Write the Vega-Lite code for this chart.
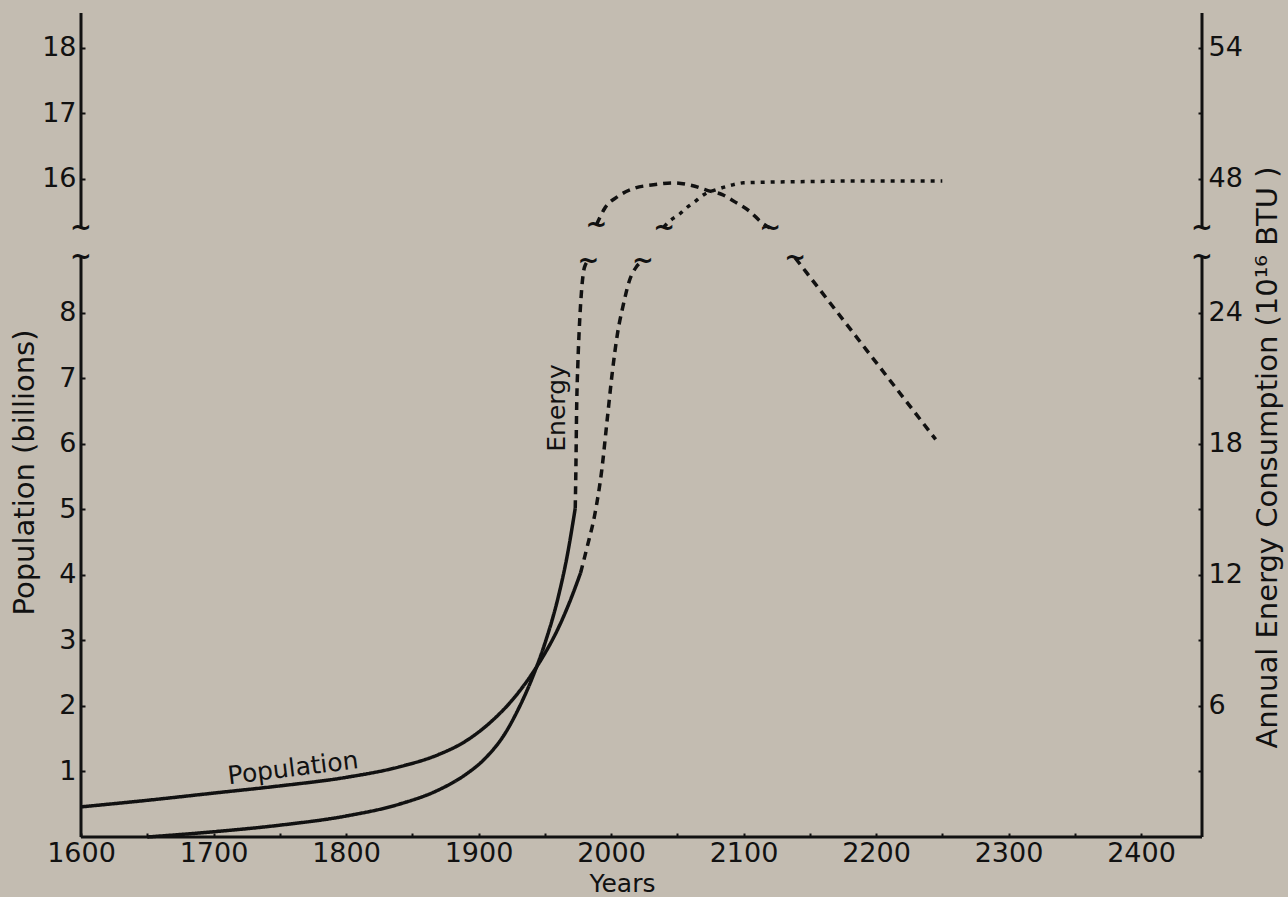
{
  "$schema": "https://vega.github.io/schema/vega-lite/v6.json",
  "width": 1121,
  "height": 824,
  "autosize": {"type": "none"},
  "padding": {"left": 81, "top": 13, "right": 86, "bottom": 60},
  "background": "#c3bcb1",
  "config": {
    "view": {"stroke": null},
    "font": "DejaVu Sans",
    "axis": {
      "domain": false,
      "grid": false,
      "labelFlush": false,
      "tickColor": "#111111",
      "tickWidth": 2,
      "tickSize": -4,
      "labelColor": "#111111",
      "labelFont": "DejaVu Sans",
      "labelFontSize": 27,
      "titleFont": "DejaVu Sans",
      "titleFontSize": 29,
      "titleFontWeight": "normal",
      "titleColor": "#111111"
    }
  },
  "datasets": {
    "population": [
      {"seg": "p1", "style": "solid", "year": 1600, "value": 0.46},
      {"seg": "p1", "style": "solid", "year": 1650, "value": 0.56},
      {"seg": "p1", "style": "solid", "year": 1700, "value": 0.67},
      {"seg": "p1", "style": "solid", "year": 1750, "value": 0.78},
      {"seg": "p1", "style": "solid", "year": 1800, "value": 0.91},
      {"seg": "p1", "style": "solid", "year": 1840, "value": 1.07},
      {"seg": "p1", "style": "solid", "year": 1870, "value": 1.26},
      {"seg": "p1", "style": "solid", "year": 1890, "value": 1.46},
      {"seg": "p1", "style": "solid", "year": 1910, "value": 1.77},
      {"seg": "p1", "style": "solid", "year": 1925, "value": 2.08},
      {"seg": "p1", "style": "solid", "year": 1940, "value": 2.48},
      {"seg": "p1", "style": "solid", "year": 1950, "value": 2.8},
      {"seg": "p1", "style": "solid", "year": 1960, "value": 3.18},
      {"seg": "p1", "style": "solid", "year": 1970, "value": 3.65},
      {"seg": "p1", "style": "solid", "year": 1977, "value": 4.03},
      {"seg": "p2", "style": "dashed", "year": 1977, "value": 4.03},
      {"seg": "p2", "style": "dashed", "year": 1982, "value": 4.43},
      {"seg": "p2", "style": "dashed", "year": 1988, "value": 4.95},
      {"seg": "p2", "style": "dashed", "year": 1993, "value": 5.6},
      {"seg": "p2", "style": "dashed", "year": 1997, "value": 6.35},
      {"seg": "p2", "style": "dashed", "year": 2001, "value": 7.1},
      {"seg": "p2", "style": "dashed", "year": 2005, "value": 7.7},
      {"seg": "p2", "style": "dashed", "year": 2009, "value": 8.1},
      {"seg": "p2", "style": "dashed", "year": 2014, "value": 8.5},
      {"seg": "p2", "style": "dashed", "year": 2019, "value": 8.7},
      {"seg": "p2", "style": "dashed", "year": 2024, "value": 8.8},
      {"seg": "p3", "style": "dotted", "year": 2040, "value": 15.27},
      {"seg": "p3", "style": "dotted", "year": 2045, "value": 15.37},
      {"seg": "p3", "style": "dotted", "year": 2051, "value": 15.45},
      {"seg": "p3", "style": "dotted", "year": 2057, "value": 15.56},
      {"seg": "p3", "style": "dotted", "year": 2063, "value": 15.65},
      {"seg": "p3", "style": "dotted", "year": 2070, "value": 15.76},
      {"seg": "p3", "style": "dotted", "year": 2080, "value": 15.84},
      {"seg": "p3", "style": "dotted", "year": 2090, "value": 15.9},
      {"seg": "p3", "style": "dotted", "year": 2100, "value": 15.94},
      {"seg": "p3", "style": "dotted", "year": 2150, "value": 15.96},
      {"seg": "p3", "style": "dotted", "year": 2200, "value": 15.97},
      {"seg": "p3", "style": "dotted", "year": 2250, "value": 15.97}
    ],
    "energy": [
      {"seg": "e1", "style": "solid", "year": 1650, "value": 0},
      {"seg": "e1", "style": "solid", "year": 1700, "value": 0.24},
      {"seg": "e1", "style": "solid", "year": 1750, "value": 0.54},
      {"seg": "e1", "style": "solid", "year": 1800, "value": 0.96},
      {"seg": "e1", "style": "solid", "year": 1840, "value": 1.5},
      {"seg": "e1", "style": "solid", "year": 1870, "value": 2.16},
      {"seg": "e1", "style": "solid", "year": 1890, "value": 2.85},
      {"seg": "e1", "style": "solid", "year": 1905, "value": 3.6},
      {"seg": "e1", "style": "solid", "year": 1920, "value": 4.74},
      {"seg": "e1", "style": "solid", "year": 1930, "value": 5.85},
      {"seg": "e1", "style": "solid", "year": 1940, "value": 7.2},
      {"seg": "e1", "style": "solid", "year": 1950, "value": 8.85},
      {"seg": "e1", "style": "solid", "year": 1960, "value": 10.95},
      {"seg": "e1", "style": "solid", "year": 1967, "value": 12.9},
      {"seg": "e1", "style": "solid", "year": 1973, "value": 15.06},
      {"seg": "e2", "style": "dashed", "year": 1973, "value": 15.06},
      {"seg": "e2", "style": "dashed", "year": 1973.5, "value": 16.95},
      {"seg": "e2", "style": "dashed", "year": 1974, "value": 19.41},
      {"seg": "e2", "style": "dashed", "year": 1975, "value": 21.72},
      {"seg": "e2", "style": "dashed", "year": 1976, "value": 23.22},
      {"seg": "e2", "style": "dashed", "year": 1978, "value": 25.2},
      {"seg": "e2", "style": "dashed", "year": 1980, "value": 26.1},
      {"seg": "e2", "style": "dashed", "year": 1983, "value": 26.4},
      {"seg": "e3", "style": "dashed", "year": 1989, "value": 45.9},
      {"seg": "e3", "style": "dashed", "year": 1995.5, "value": 46.68},
      {"seg": "e3", "style": "dashed", "year": 2005, "value": 47.19},
      {"seg": "e3", "style": "dashed", "year": 2018, "value": 47.58},
      {"seg": "e3", "style": "dashed", "year": 2032, "value": 47.73},
      {"seg": "e3", "style": "dashed", "year": 2047, "value": 47.82},
      {"seg": "e3", "style": "dashed", "year": 2061, "value": 47.7},
      {"seg": "e3", "style": "dashed", "year": 2072, "value": 47.49},
      {"seg": "e3", "style": "dashed", "year": 2084, "value": 47.28},
      {"seg": "e3", "style": "dashed", "year": 2093.5, "value": 46.95},
      {"seg": "e3", "style": "dashed", "year": 2105, "value": 46.5},
      {"seg": "e3", "style": "dashed", "year": 2114, "value": 45.99},
      {"seg": "e3", "style": "dashed", "year": 2120, "value": 45.75},
      {"seg": "e4", "style": "dashed", "year": 2139, "value": 26.52},
      {"seg": "e4", "style": "dashed", "year": 2193, "value": 22.29},
      {"seg": "e4", "style": "dashed", "year": 2245, "value": 18.21}
    ],
    "axisLines": [
      {"x1": 1600, "x2": 1600, "y1": 0, "y2": 8.85},
      {"x1": 1600, "x2": 1600, "y1": 15.25, "y2": 18.53},
      {"x1": 2446, "x2": 2446, "y1": 0, "y2": 8.85},
      {"x1": 2446, "x2": 2446, "y1": 15.25, "y2": 18.53},
      {"x1": 1600, "x2": 2446, "y1": 0, "y2": 0}
    ],
    "breaks": [
      {"year": 1600, "value": 8.85},
      {"year": 1600, "value": 15.25},
      {"year": 2446, "value": 8.85},
      {"year": 2446, "value": 15.25},
      {"year": 2024, "value": 8.8},
      {"year": 2040, "value": 15.25},
      {"year": 1983, "value": 8.8},
      {"year": 1989, "value": 15.3},
      {"year": 2120, "value": 15.25},
      {"year": 2139, "value": 8.84}
    ]
  },
  "layer": [
    {
      "layer": [
        {
          "data": {"name": "population"},
          "mark": {"type": "line", "strokeWidth": 3.5, "color": "#111111", "interpolate": "monotone"},
          "encoding": {
            "x": {
              "field": "year", "type": "quantitative",
              "scale": {"domain": [1600, 2446], "nice": false, "zero": false},
              "axis": {
                "values": [1600,1650,1700,1750,1800,1850,1900,1950,2000,2050,2100,2150,2200,2250,2300,2350,2400],
                "format": "d",
                "labelExpr": "datum.value % 100 === 0 ? datum.label : ''",
                "labelPadding": 7,
                "title": "Years",
                "titleFontSize": 25,
                "titleX": 541,
                "titleY": 46,
                "titleBaseline": "middle",
                "titleAnchor": "start",
                "titleAlign": "center"
              }
            },
            "y": {
              "field": "value", "type": "quantitative",
              "scale": {"type": "linear", "domain": [0, 8.85, 15.25, 18.53], "range": [824, 244.3, 215.1, 0], "nice": false, "zero": false},
              "axis": {
                "values": [1,2,3,4,5,6,7,8,16,17,18],
                "format": "d",
                "labelPadding": 9,
                "title": "Population (billions)",
                "titleAngle": -90,
                "titleX": -57,
                "titleY": 459,
                "titleAlign": "center",
                "titleBaseline": "middle",
                "titleAnchor": "start"
              }
            },
            "detail": {"field": "seg"},
            "strokeDash": {
              "field": "style", "type": "nominal",
              "scale": {"domain": ["solid", "dashed", "dotted"], "range": [[1, 0], [8, 6], [4, 6]]},
              "legend": null
            }
          }
        },
        {
          "data": {"name": "axisLines"},
          "mark": {"type": "rule", "strokeWidth": 3, "color": "#111111"},
          "encoding": {
            "x": {"field": "x1", "type": "quantitative", "scale": {"domain": [1600, 2446], "nice": false, "zero": false}},
            "x2": {"field": "x2"},
            "y": {"field": "y1", "type": "quantitative", "scale": {"type": "linear", "domain": [0, 8.85, 15.25, 18.53], "range": [824, 244.3, 215.1, 0], "nice": false, "zero": false}},
            "y2": {"field": "y2"}
          }
        },
        {
          "data": {"name": "breaks"},
          "mark": {"type": "text", "text": "~", "fontSize": 26, "fontWeight": "bold", "color": "#111111", "baseline": "middle", "align": "center"},
          "encoding": {
            "x": {"field": "year", "type": "quantitative", "scale": {"domain": [1600, 2446], "nice": false, "zero": false}},
            "y": {"field": "value", "type": "quantitative", "scale": {"type": "linear", "domain": [0, 8.85, 15.25, 18.53], "range": [824, 244.3, 215.1, 0], "nice": false, "zero": false}}
          }
        },
        {
          "data": {"values": [{"label": "Population", "year": 1760, "value": 1.05}]},
          "mark": {"type": "text", "fontSize": 25, "angle": -7, "color": "#111111", "baseline": "middle", "align": "center"},
          "encoding": {
            "text": {"field": "label"},
            "x": {"field": "year", "type": "quantitative", "scale": {"domain": [1600, 2446], "nice": false, "zero": false}},
            "y": {"field": "value", "type": "quantitative", "scale": {"type": "linear", "domain": [0, 8.85, 15.25, 18.53], "range": [824, 244.3, 215.1, 0], "nice": false, "zero": false}}
          }
        },
        {
          "data": {"values": [{"label": "Energy", "year": 1959.2, "value": 6.55}]},
          "mark": {"type": "text", "fontSize": 25, "angle": -90, "color": "#111111", "baseline": "middle", "align": "center"},
          "encoding": {
            "text": {"field": "label"},
            "x": {"field": "year", "type": "quantitative", "scale": {"domain": [1600, 2446], "nice": false, "zero": false}},
            "y": {"field": "value", "type": "quantitative", "scale": {"type": "linear", "domain": [0, 8.85, 15.25, 18.53], "range": [824, 244.3, 215.1, 0], "nice": false, "zero": false}}
          }
        }
      ]
    },
    {
      "data": {"name": "energy"},
      "mark": {"type": "line", "strokeWidth": 3.5, "color": "#111111", "interpolate": "monotone"},
      "encoding": {
        "x": {"field": "year", "type": "quantitative", "scale": {"domain": [1600, 2446], "nice": false, "zero": false}},
        "y": {
          "field": "value", "type": "quantitative",
          "scale": {"type": "linear", "domain": [0, 26.55, 45.75, 55.59], "range": [824, 244.3, 215.1, 0], "nice": false, "zero": false},
          "axis": {
            "orient": "right",
            "values": [3,6,9,12,15,18,21,24,48,51,54],
            "format": "d",
            "labelExpr": "datum.value % 6 === 0 ? datum.label : ''",
            "labelPadding": 10,
            "title": "Annual  Energy  Consumption  (10¹⁶ BTU )",
            "titleAngle": -90,
            "titleX": 65,
            "titleY": 444,
            "titleAlign": "center",
            "titleBaseline": "middle",
            "titleAnchor": "start"
          }
        },
        "detail": {"field": "seg"},
        "strokeDash": {
          "field": "style", "type": "nominal",
          "scale": {"domain": ["solid", "dashed", "dotted"], "range": [[1, 0], [8, 6], [4, 6]]},
          "legend": null
        }
      }
    }
  ],
  "resolve": {"scale": {"y": "independent"}}
}
